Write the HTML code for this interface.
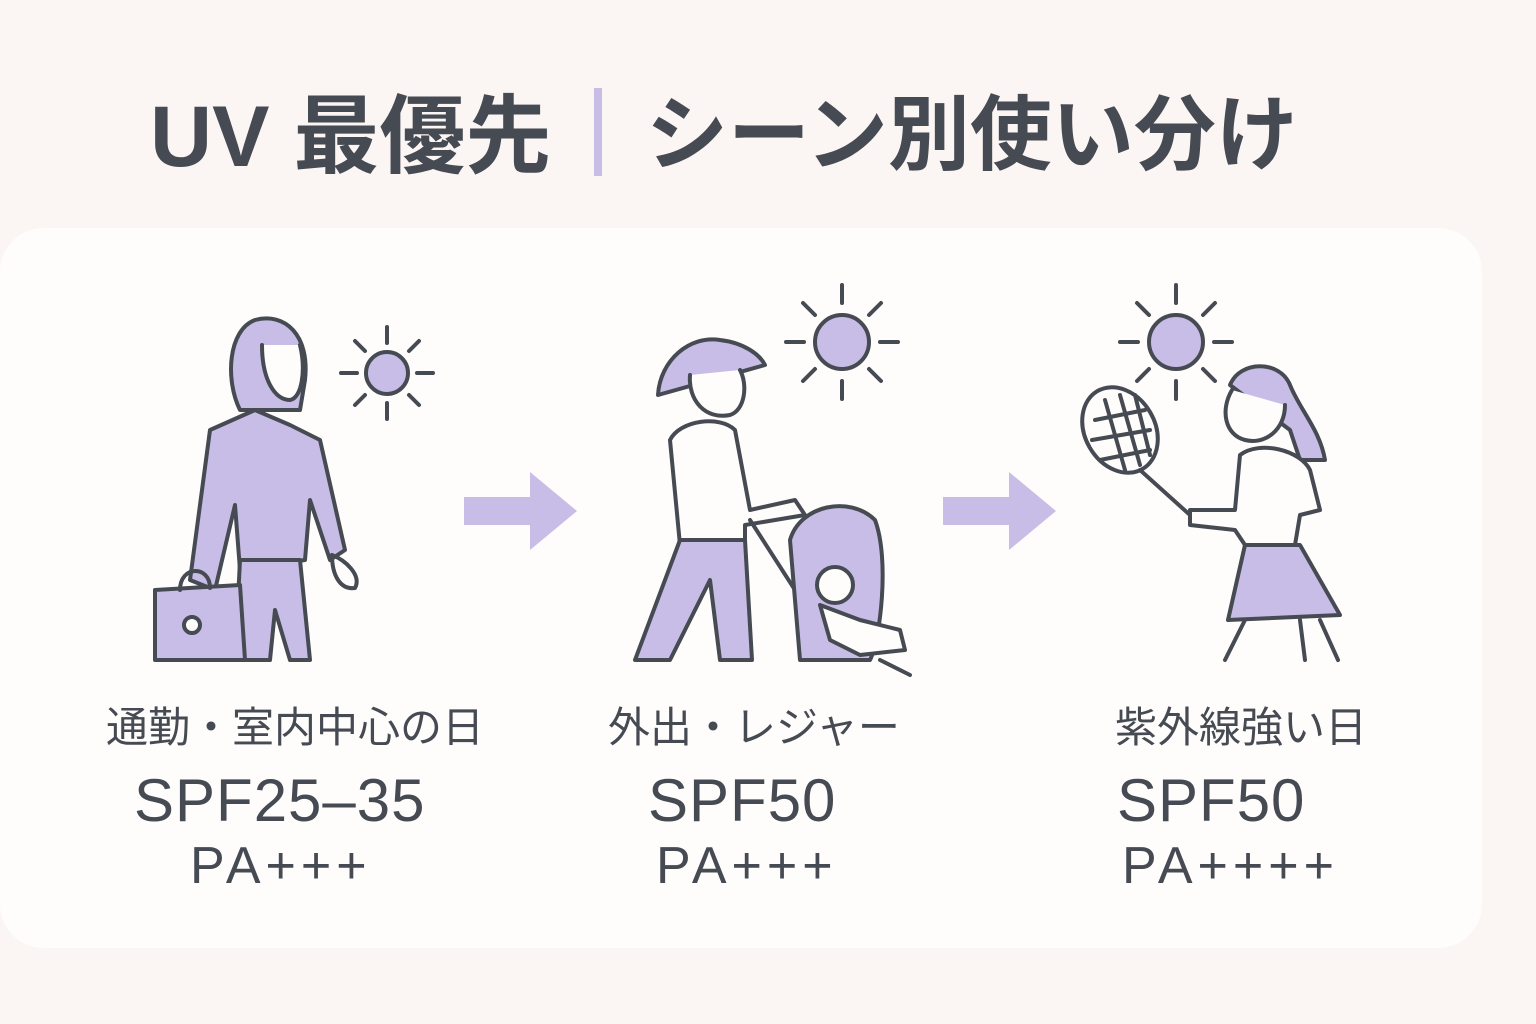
<!DOCTYPE html>
<html><head><meta charset="utf-8"><style>
html,body{margin:0;padding:0}
body{width:1536px;height:1024px;background:#fbf6f4;position:relative;overflow:hidden;font-family:"Liberation Sans","Noto Sans CJK JP",sans-serif;color:#464a52}
.card{position:absolute;left:0;top:228px;width:1482px;height:720px;background:#fefdfc;border-radius:44px}
.t{position:absolute;white-space:nowrap;font-weight:bold}
.s{font-size:60px;font-weight:normal;letter-spacing:1px}
.p{font-size:52px;font-weight:normal;letter-spacing:5px}
</style></head><body>
<div class="card"></div>
<div class="t" style="left:150px;top:66px;font-size:86px;font-weight:bold">UV 最優先</div>
<div style="position:absolute;left:594px;top:88px;width:8px;height:88px;background:#c8bde6"></div>
<div class="t" style="left:646px;top:68px;font-size:82px">シーン別使い分け</div>

<div class="t" style="left:106px;top:694px;font-size:42px;font-weight:normal">通勤・室内中心の日</div>
<div class="t s" style="left:134px;top:766px">SPF25–35</div>
<div class="t p" style="left:190px;top:836px">PA+++</div>

<div class="t" style="left:608px;top:694px;font-size:42px;font-weight:normal">外出・レジャー</div>
<div class="t s" style="left:648px;top:766px">SPF50</div>
<div class="t p" style="left:656px;top:836px">PA+++</div>

<div class="t" style="left:1115px;top:694px;font-size:42px;font-weight:normal">紫外線強い日</div>
<div class="t s" style="left:1117px;top:766px">SPF50</div>
<div class="t p" style="left:1122px;top:836px">PA++++</div>

<svg width="1536" height="1024" style="position:absolute;left:0;top:0" fill="none" stroke="#464a52" stroke-width="4" stroke-linecap="round" stroke-linejoin="round">
<g fill="#c8bde6" stroke="none">
<polygon points="464,497 530,497 530,472 577,511 530,550 530,525 464,525"/>
<polygon points="943,497 1009,497 1009,472 1056,511 1009,550 1009,525 943,525"/>
</g>
<g>
<circle cx="387" cy="373" r="21" fill="#c8bde6"/>
<path d="M387,327v16M387,403v16M341,373h16M417,373h16M355,341l10,10M409,395l10,10M419,341l-10,10M365,395l-10,10"/>
<circle cx="842" cy="342" r="27" fill="#c8bde6"/>
<path d="M842,285v18M842,381v18M786,342h18M880,342h18M803,303l12,12M869,369l12,12M881,303l-12,12M815,369l-12,12"/>
<circle cx="1176" cy="342" r="27" fill="#c8bde6"/>
<path d="M1176,285v18M1176,381v18M1120,342h18M1214,342h18M1137,303l12,12M1203,369l12,12M1215,303l-12,12M1149,369l-12,12"/>
</g>
<g>
<path d="M240,410 C225,380 228,330 255,320 C285,312 310,335 305,380 L300,410 Z" fill="#c8bde6"/>
<path d="M262,345 C262,380 275,400 290,400 C302,398 306,370 300,345" fill="#fefdfc"/>
<path d="M210,430 L255,410 L290,425 L320,440 L345,550 L330,560 L310,500 L305,560 L240,570 L235,505 L215,590 L190,580 Z" fill="#c8bde6"/>
<path d="M240,560 L235,660 L270,660 L275,610 L290,660 L310,660 L300,560 Z" fill="#c8bde6"/>
<path d="M155,590 L240,585 L245,660 L155,660 Z" fill="#c8bde6"/>
<circle cx="192" cy="625" r="8" fill="#fefdfc"/>
<path d="M180,590 C180,565 210,565 210,588"/>
<path d="M332,555 C345,560 362,575 355,588 C340,590 332,575 332,555"/>
</g>
<g>
<path d="M658,395 C660,360 690,335 720,340 C745,343 760,355 765,365 Z" fill="#c8bde6"/>
<path d="M690,375 C688,400 705,420 730,415 C745,410 748,385 740,370" fill="#fefdfc"/>
<path d="M670,440 C680,420 720,415 735,430 L750,510 L795,500 L805,515 L745,525 L745,545 L680,545 Z" fill="#fefdfc"/>
<path d="M680,540 L635,660 L670,660 L710,580 L720,660 L752,660 L745,540 Z" fill="#c8bde6"/>
<path d="M750,520 L840,660"/>
<path d="M790,540 C800,505 850,495 875,520 C890,560 880,640 870,660 L800,660 Z" fill="#c8bde6"/>
<circle cx="835" cy="585" r="18" fill="#fefdfc"/>
<path d="M820,605 L860,620 L900,630 L905,650 L860,655 L830,640 Z" fill="#fefdfc"/>
<path d="M880,660 L910,675"/>
</g>
<g>
<ellipse cx="1120" cy="430" rx="35" ry="45" transform="rotate(-30 1120 430)" fill="#fefdfc"/>
<path d="M1095,420 L1145,410 M1092,440 L1150,430 M1100,460 L1150,450 M1105,400 L1125,470 M1120,395 L1140,465 M1135,395 L1150,455"/>
<path d="M1140,470 L1190,515"/>
<path d="M1230,385 C1240,360 1280,360 1290,385 C1300,410 1320,430 1325,460 L1300,460 L1290,430 Z" fill="#c8bde6"/>
<path d="M1232,390 C1220,410 1225,435 1245,440 C1265,445 1285,430 1285,405" fill="#fefdfc"/>
<path d="M1240,455 C1260,440 1300,450 1310,470 L1320,510 L1300,515 L1295,545 L1245,545 L1235,530 L1190,525 L1190,510 L1235,510 Z" fill="#fefdfc"/>
<path d="M1245,545 L1228,620 L1340,615 L1300,545 Z" fill="#c8bde6"/>
<path d="M1245,620 L1225,660 M1300,620 L1305,660 M1320,620 L1338,660"/>
</g>
</svg>
</body></html>
